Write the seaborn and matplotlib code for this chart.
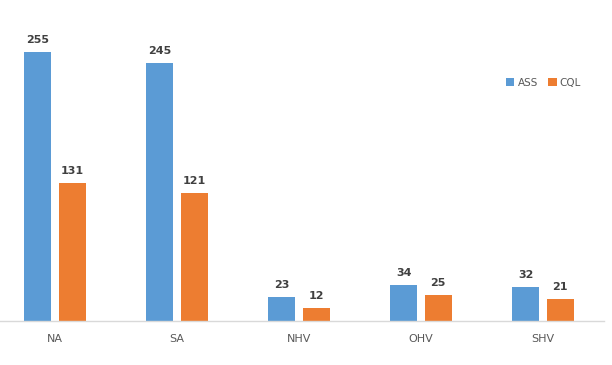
import matplotlib
matplotlib.use("Agg")
import matplotlib.pyplot as plt
import seaborn as sns
import pandas as pd

categories = ["NA", "SA", "NHV", "OHV", "SHV"]
ass_values = [255, 245, 23, 34, 32]
cql_values = [131, 121, 12, 25, 21]
series = ["ASS", "CQL"]
colors = ["#5B9BD5", "#ED7D31"]

df = pd.DataFrame({
    "cat": categories * 2,
    "value": ass_values + cql_values,
    "series": [series[0]] * len(categories) + [series[1]] * len(categories),
})

sns.set_style("white")
plt.rcParams["font.family"] = ["DejaVu Sans"]

fig = plt.figure(figsize=(6.12, 3.65), dpi=100)
ax = fig.add_axes([0.0, 0.1205, 0.9869, 0.867])

sns.barplot(data=df, x="cat", y="value", hue="series", order=categories,
            hue_order=series, palette=colors, width=0.565, gap=0.22,
            saturation=1, ax=ax, errorbar=None, linewidth=0)

for c in ax.containers:
    ax.bar_label(c, padding=5, fontsize=8, fontweight="bold", color="#404040")

ax.set_xlim(-0.45, 4.5)
ax.set_ylim(0, 300)
ax.set_xlabel("")
ax.set_ylabel("")
ax.set_yticks([])
for s in ["top", "right", "left"]:
    ax.spines[s].set_visible(False)
ax.spines["bottom"].set_color("#D9D9D9")
ax.spines["bottom"].set_linewidth(1)
ax.tick_params(axis="x", length=0, pad=9, labelsize=8, labelcolor="#595959")

leg = ax.legend(loc="center", bbox_to_anchor=(0.9, 0.752), ncol=2, frameon=False,
                fontsize=7.5, handlelength=0.8, handleheight=0.8,
                handletextpad=0.3, columnspacing=1.0)
for t in leg.get_texts():
    t.set_color("#595959")

fig.savefig("out.png", dpi=100, facecolor="white")
